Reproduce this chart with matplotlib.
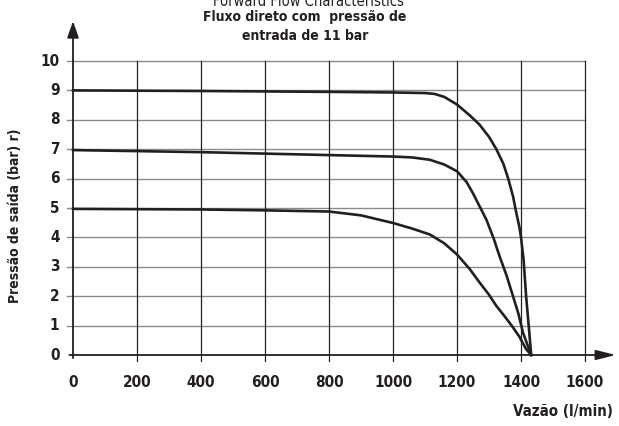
import matplotlib
matplotlib.use("Agg")
import matplotlib.pyplot as plt
import matplotlib.font_manager as fm

# dados
vazao_9 = [0, 400, 800, 1000, 1100, 1130, 1160, 1200, 1240, 1270, 1300, 1323, 1345, 1360, 1375, 1385, 1395, 1400, 1408, 1416, 1424, 1432]
pres_9 = [9.0, 8.98, 8.95, 8.93, 8.91, 8.88, 8.78, 8.52, 8.15, 7.84, 7.42, 7.0, 6.5, 6.0, 5.4, 4.85, 4.35, 4.0, 3.25, 2.0, 1.0, 0.0]
vazao_7 = [0, 400, 800, 1000, 1060, 1115, 1160, 1200, 1230, 1250, 1270, 1292, 1315, 1333, 1355, 1375, 1392, 1406, 1420, 1432]
pres_7 = [6.97, 6.9, 6.8, 6.75, 6.72, 6.64, 6.48, 6.25, 5.88, 5.5, 5.07, 4.6, 3.95, 3.36, 2.7, 2.0, 1.4, 0.77, 0.35, 0.0]
vazao_5 = [0, 400, 600, 800, 900, 1000, 1060, 1115, 1160, 1200, 1240, 1271, 1300, 1323, 1350, 1375, 1395, 1416, 1432]
pres_5 = [4.97, 4.95, 4.92, 4.88, 4.75, 4.49, 4.3, 4.1, 3.8, 3.42, 2.92, 2.46, 2.05, 1.67, 1.3, 0.94, 0.62, 0.2, 0.0]

xticks = [0, 200, 400, 600, 800, 1000, 1200, 1400, 1600]
yticks = list(range(0, 11))

# fonte condensada, se houver
cond = [f for f in fm.fontManager.ttflist
        if f.name in ("DejaVu Sans", "Liberation Sans Narrow")
        and (f.stretch == "condensed" or f.name == "Liberation Sans Narrow") and f.weight == 700]
if cond:
    fonte = cond[0].name
    estica = "condensed"
else:
    fonte = "Liberation Sans"
    estica = "normal"
plt.rcParams['font.family'] = [fonte, 'DejaVu Sans']
plt.rcParams['font.stretch'] = estica

fig = plt.figure(figsize=(6.19, 4.26), dpi=100)
ax = fig.add_axes([73 / 619, 71 / 426, 512 / 619, 294 / 426])
ax.set_xlim(0, 1600)
ax.set_ylim(0, 10)
for s in ax.spines.values():
    s.set_visible(False)

# grade
for yv in yticks[1:]:
    ax.plot([-20, 1600], [yv, yv], color="#8a8a8a", lw=1.0, clip_on=False, zorder=1)
for xv in xticks[1:]:
    ax.plot([xv, xv], [-0.2, 10], color="#222222", lw=0.9, clip_on=False, zorder=1)

# eixos com setas
ax.annotate("", xy=(0, 11.45), xytext=(0, -0.2), annotation_clip=False,
            arrowprops=dict(arrowstyle="-|>,head_length=1.0,head_width=0.35", color="#231f20", lw=1.3))
ax.annotate("", xy=(1705, 0), xytext=(-20, 0), annotation_clip=False,
            arrowprops=dict(arrowstyle="-|>,head_length=1.2,head_width=0.3", color="#231f20", lw=1.3))

ax.plot(vazao_9, pres_9, color="#231f20", lw=1.9, zorder=3, clip_on=False)
ax.plot(vazao_7, pres_7, color="#231f20", lw=1.9, zorder=3, clip_on=False)
ax.plot(vazao_5, pres_5, color="#231f20", lw=1.9, zorder=3, clip_on=False)

ax.set_xticks([])
ax.set_yticks([])
for xv in xticks:
    ax.text(xv, -0.95, str(xv), ha="center", va="center", fontsize=11, fontweight="bold", color="#231f20")
for yv in yticks:
    ax.text(-42, yv, str(yv), ha="right", va="center", fontsize=11, fontweight="bold", color="#231f20")

fig.text(563 / 619, 1 - 411 / 426, "Vazão (l/min)", ha="center", va="center",
         fontsize=10.8, fontweight="bold", color="#231f20")
fig.text(15 / 619, 1 - 216 / 426, "Pressão de saída (bar) r)", ha="center", va="center",
         rotation=90, fontsize=10, fontweight="bold", color="#231f20")

fig.text(308 / 619, 1 - 1 / 426, "Forward Flow Characteristics", ha="center", va="center",
         fontsize=10.5, color="#231f20")
fig.text(305 / 619, 1 - 17 / 426, "Fluxo direto com  pressão de", ha="center", va="center",
         fontsize=10, fontweight="bold", color="#231f20",
         bbox=dict(facecolor="white", edgecolor="none", pad=0.5))
fig.text(305 / 619, 1 - 36 / 426, "entrada de 11 bar", ha="center", va="center",
         fontsize=10, fontweight="bold", color="#231f20")

fig.savefig("out.png", dpi=100, facecolor="white")
